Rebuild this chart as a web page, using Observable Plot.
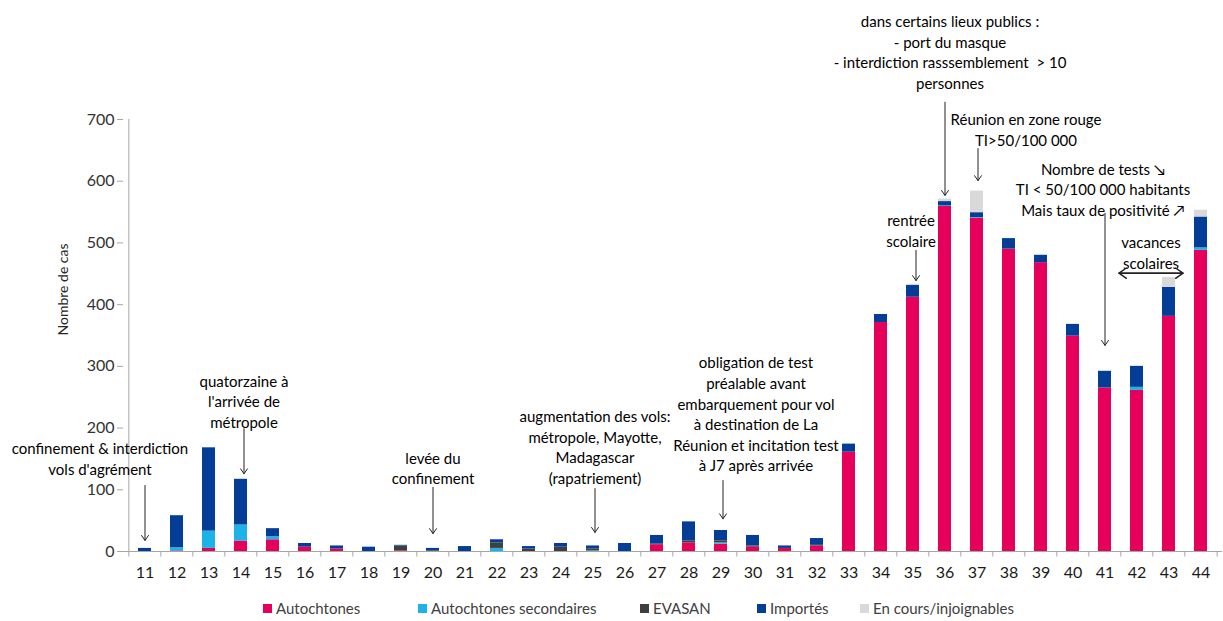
<!DOCTYPE html>
<html><head><meta charset="utf-8">
<script src="https://cdn.jsdelivr.net/npm/d3@7"></script>
<script src="https://cdn.jsdelivr.net/npm/@observablehq/plot@0.6"></script>
<style>
body{margin:0;background:#fff;font-family:Lato,"Open Sans",sans-serif;}
#legend{position:relative;height:31px;font-size:15px;color:#404040;}
.item{position:absolute;top:9px;display:flex;align-items:center;white-space:nowrap;}
.sw{width:9px;height:9px;margin-right:4px;display:inline-block;}
</style></head><body>
<div id="chart"></div>
<div id="legend"></div>
<script>
const weeks = d3.range(11, 45);
const series = ["Autochtones", "Autochtones secondaires", "EVASAN", "Importés", "En cours/injoignables"];
const colors = ["#e4005b", "#1cb4e8", "#3f3f3f", "#033d96", "#d9d9d9"];
// values per week 11..44
const autochtones = [0,1,5,17,19,7,4,0,1,0,0,0,0,0,0,0,11,14,12,7,5,9,161,371,412,559,540,490,468,349,265,261,381,488];
const secondaires = [0,5,28,26,5,0,0,0,0,0,0,5,0,0,1,0,0,0,2,0,0,0,0,0,0,1,1,0,0,0,0,5,0,4];
const evasan      = [0,0,0,0,0,0,0,0,8,1,0,9,4,7,3,0,1,3,3,2,0,1,0,0,0,0,0,0,0,0,0,0,0,0];
const importes    = [5,52,135,74,13,6,5,7,1,4,8,5,4,6,5,13,14,31,17,17,4,11,13,13,19,7,8,17,12,19,27,34,47,50];
const encours     = [0,0,0,0,0,0,0,0,0,0,0,0,0,0,0,0,0,0,0,0,0,0,0,0,2,4,35,0,0,0,0,0,16,11];
const yTicks = [0,100,200,300,400,500,600,700];

const annotations = [
  {week:11, y:152, dx:-45, text:"confinement & interdiction\nvols d'agrément", from:107, to:18, adx:0},
  {week:14, y:244, dx:3, text:"quatorzaine à\nl'arrivée de\nmétropole", from:199, to:126, adx:3},
  {week:20, y:136, dx:0, text:"levée du\nconfinement", from:104, to:29, adx:0},
  {week:25, y:170, dx:2, text:"augmentation des vols:\nmétropole, Mayotte,\nMadagascar\n(rapatriement)", from:102, to:31, adx:2},
  {week:29, y:224, dx:35, text:"obligation de test\npréalable avant\nembarquement pour vol\nà destination de La\nRéunion et incitation test\nà J7 après arrivée", from:115, to:53, adx:2},
  {week:36, y:810, dx:5, text:"dans certains lieux publics :\n- port du masque\n- interdiction rasssemblement  > 10\npersonnes", from:728, to:577, adx:0},
  {week:37, y:685, dx:49, text:"Réunion en zone rouge\nTI>50/100 000", from:653, to:601, adx:1},
  {week:41, y:588, dx:-2, text:"Nombre de tests ↘\nTI < 50/100 000 habitants\nMais taux de positivité ↗", from:548, to:334, adx:0},
  {week:35, y:521, dx:-2, text:"rentrée\nscolaire", from:488, to:439, adx:3},
  {week:43, y:485, dx:-18, text:"vacances\nscolaires", from:null, to:null, adx:0}
];
const vacances = {w1:41, w2:43, y:451, dx:14};

const rows = [];
const vals = [autochtones, secondaires, evasan, importes, encours];
series.forEach((s, k) => weeks.forEach((w, i) => rows.push({week:w, serie:s, value:vals[k][i]})));

const W = 1223, ML = 123, MR = 1;
const step = (W - ML - MR) / weeks.length;

const marks = [
  Plot.barY(rows, {x:"week", y:"value", fill:"serie", order: series}),
  Plot.ruleY([0], {stroke:"#a6a6a6"}),
  Plot.ruleX([weeks[0]], {y1:0, y2:700, dx:-step/2, stroke:"#a6a6a6"}),
  Plot.ruleX(weeks, {y1:0, y2:-9, dx:-step/2, stroke:"#a6a6a6"}),
  Plot.ruleX([weeks[weeks.length-1]], {y1:0, y2:-9, dx:step/2, stroke:"#a6a6a6"}),
  Plot.axisY({ticks:yTicks, tickSize:6, tickPadding:3, fontSize:16, label:null, stroke:"#a6a6a6", color:"#333"}),
  Plot.axisX({tickSize:0, tickPadding:15, fontSize:16, label:null, color:"#1a1a1a"}),
  Plot.text(["Nombre de cas"], {frameAnchor:"left", rotate:-90, dx:-60, fontSize:14, fill:"#262626"})
];
annotations.forEach(a => {
  marks.push(Plot.text([a], {x:"week", y:"y", text:"text", dx:a.dx, fontSize:15, lineHeight:1.37, fill:"#000"}));
  if (a.from !== null) marks.push(Plot.arrow([a], {x1:"week", x2:"week", y1:"from", y2:"to", dx:a.adx, stroke:"#222", strokeWidth:1, headLength:9, headAngle:70}));
});
marks.push(Plot.arrow([vacances], {x1:"w1", x2:"w2", y1:"y", y2:"y", dx:vacances.dx, stroke:"#222", headLength:9, headAngle:70}));
marks.push(Plot.arrow([vacances], {x1:"w2", x2:"w1", y1:"y", y2:"y", dx:vacances.dx, stroke:"#222", headLength:9, headAngle:70}));

const chart = Plot.plot({
  width: W, height: 590,
  marginLeft: ML, marginRight: MR, marginTop: 119, marginBottom: 39,
  style: {fontFamily: "Lato, sans-serif", background: "#fff", overflow: "visible"},
  x: {type:"band", domain: weeks, paddingInner:0.6, paddingOuter:0.3, axis:null},
  y: {domain:[0,700], axis:null},
  color: {domain: series, range: colors},
  marks
});
document.getElementById("chart").appendChild(chart);

const legendX = [263, 418, 640, 757, 860];
const lg = document.getElementById("legend");
series.forEach((s, k) => {
  const d = document.createElement("div");
  d.className = "item";
  d.style.left = legendX[k] + "px";
  d.innerHTML = `<span class="sw" style="background:${colors[k]}"></span>${s}`;
  lg.appendChild(d);
});
</script>
</body></html>
